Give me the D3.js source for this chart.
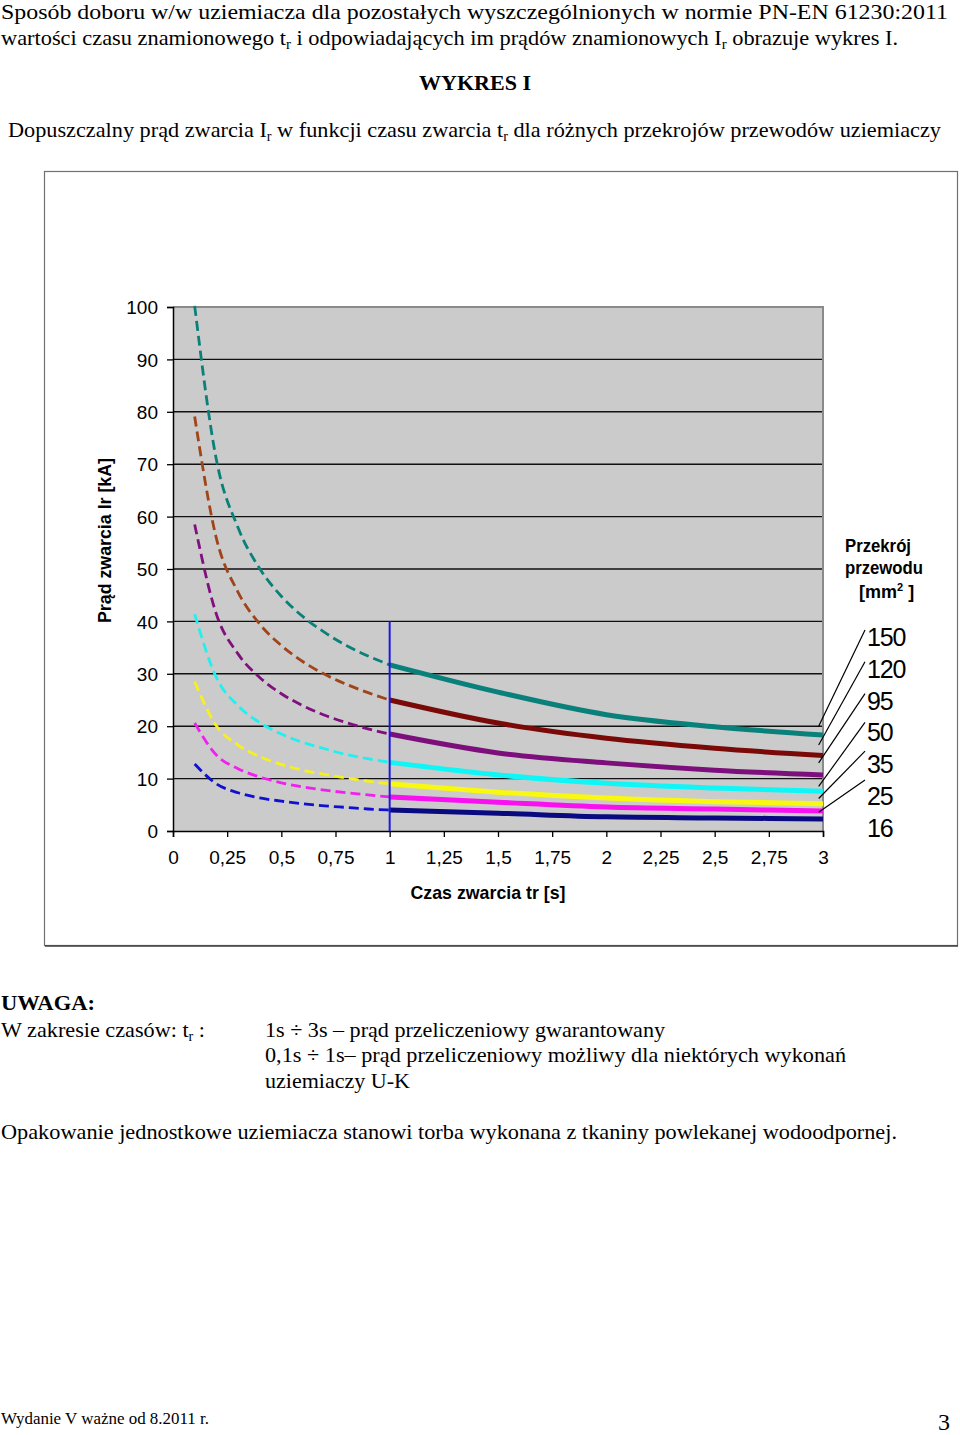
<!DOCTYPE html>
<html><head><meta charset="utf-8">
<script src="https://cdn.jsdelivr.net/npm/d3@7"></script>
<style>html,body{margin:0;padding:0;background:#fff;} svg{display:block}</style>
</head><body>
<svg id="c" width="960" height="1435"></svg>
<script>
// ---------- data ----------
const sections = ["150","120","95","50","35","25","16"];
const tDashed = [0.1,0.2,0.3,0.4,0.5,0.6,0.7,0.8,0.9,1.0];
const tSolid  = [1.0,1.5,2.0,2.5,3.0];
const dashed150 = [100.2,70.9,57.9,50.1,44.8,40.9,37.9,35.4,33.4,31.7];
const dashed120 = [79.1,55.9,45.6,39.5,35.4,32.3,29.9,28.0,26.4,25.0];
const dashed95  = [58.5,41.4,33.8,29.3,26.2,23.9,22.1,20.7,19.5,18.5];
const dashed50  = [41.4,29.3,23.9,20.7,18.5,16.9,15.7,14.6,13.8,13.1];
const dashed35  = [28.5,20.1,16.4,14.2,12.7,11.6,10.8,10.1,9.5,9.0];
const dashed25  = [20.6,14.5,11.9,10.3,9.2,8.4,7.8,7.3,6.9,6.5];
const dashed16  = [12.8,9.0,7.3,6.3,5.7,5.2,4.8,4.5,4.2,4.0];
const solid150 = [31.7,26.5,22.2,19.9,18.3];
const solid120 = [25.0,20.6,17.7,15.8,14.4];
const solid95  = [18.5,14.9,13.0,11.6,10.7];
const solid50  = [13.1,10.7,9.1,8.2,7.6];
const solid35  = [9.0,7.4,6.3,5.6,5.2];
const solid25  = [6.5,5.5,4.6,4.2,3.8];
const solid16  = [4.0,3.4,2.7,2.5,2.3];
const xTicks = [0,0.25,0.5,0.75,1,1.25,1.5,1.75,2,2.25,2.5,2.75,3];
const xTickLabels = ["0","0,25","0,5","0,75","1","1,25","1,5","1,75","2","2,25","2,5","2,75","3"];
const yTicks = [0,10,20,30,40,50,60,70,80,90,100];
const markerT = 1, markerTop = 40;
const leaderEnds = [20.0,16.4,13.0,8.5,6.2,3.6]; // kA where leader lines touch (150..25)

// ---------- styles ----------
const dashedColors = ["#0a8079","#a0441a","#80107e","#22f0f0","#f6f020","#f020f0","#1010d0"];
const solidColors  = ["#0a807a","#7a0a08","#7c0f7c","#10f6f6","#f8f810","#f810f0","#0a0a80"];
const sans = "'Liberation Sans', Arial, sans-serif";
const serif = "'Liberation Serif', 'Times New Roman', serif";

const svg = d3.select("#c");
const x = d3.scaleLinear().domain([0,3]).range([173,823]);
const y = d3.scaleLinear().domain([0,100]).range([831,307]);

// ---------- page text ----------
function para(px, py, parts, o) {
  const t = svg.append("text").attr("x", px).attr("y", py)
    .attr("font-family", serif).attr("font-size", o.size || 22)
    .attr("font-weight", o.bold ? "bold" : "normal").attr("fill", "#000");
  let wasSub = false;
  parts.forEach(p => {
    if (typeof p === "string") {
      const s = t.append("tspan").text(p);
      if (wasSub) s.attr("dy", -4);
      wasSub = false;
    } else {
      t.append("tspan").attr("dy", 4).attr("font-size", 14).text(p.sub);
      wasSub = true;
    }
  });
  if (o.w) t.attr("textLength", o.w).attr("lengthAdjust", "spacingAndGlyphs");
  if (o.anchor) t.attr("text-anchor", o.anchor);
  return t;
}
para(1, 19, ["Sposób doboru w/w uziemiacza dla pozostałych wyszczególnionych w normie PN-EN 61230:2011"], {w: 947, size: 21});
para(1, 45, ["wartości czasu znamionowego t", {sub:"r"}, " i odpowiadających im prądów znamionowych I", {sub:"r"}, " obrazuje wykres I."], {w: 897, size: 21});
para(419, 90, ["WYKRES I"], {w: 112, bold: true});
para(8, 137, ["Dopuszczalny prąd zwarcia I", {sub:"r"}, " w funkcji czasu zwarcia t", {sub:"r"}, " dla różnych przekrojów przewodów uziemiaczy"], {w: 933});
para(1, 1010, ["UWAGA:"], {w: 94, bold: true});
para(1, 1037, ["W zakresie czasów: t", {sub:"r"}, " :"], {w: 204});
para(265, 1037, ["1s ÷ 3s – prąd przeliczeniowy gwarantowany"], {w: 400});
para(265, 1062, ["0,1s ÷ 1s– prąd przeliczeniowy możliwy dla niektórych wykonań"], {w: 581});
para(265, 1088, ["uziemiaczy U-K"], {w: 145});
para(1, 1139, ["Opakowanie jednostkowe uziemiacza stanowi torba wykonana z tkaniny powlekanej wodoodpornej."], {w: 896});
para(1, 1424, ["Wydanie V ważne od 8.2011 r."], {w: 208, size: 16});
para(938, 1430, ["3"], {size: 24});

// ---------- chart frame ----------
svg.append("rect").attr("x", 44.5).attr("y", 171.5).attr("width", 913).attr("height", 774)
  .attr("fill", "#fff").attr("stroke", "#707070").attr("stroke-width", 1.2);
svg.append("line").attr("x1", 45).attr("x2", 958).attr("y1", 946).attr("y2", 946)
  .attr("stroke", "#404040").attr("stroke-width", 1.5);

// plot area
svg.append("rect").attr("x", x(0)).attr("y", y(100)).attr("width", x(3) - x(0)).attr("height", y(0) - y(100))
  .attr("fill", "#cbcbcb");
// gridlines
svg.append("g").selectAll("line").data(yTicks.filter(v => v > 0 && v < 100)).join("line")
  .attr("x1", x(0)).attr("x2", x(3)).attr("y1", d => y(d)).attr("y2", d => y(d))
  .attr("stroke", "#111").attr("stroke-width", 1.4);
// top/right border of plot area
svg.append("path").attr("d", `M${x(0)},${y(100)}H${x(3)}V${y(0)}`)
  .attr("fill", "none").attr("stroke", "#8a8a8a").attr("stroke-width", 2);

// axes
const yAxis = d3.axisLeft(y).tickValues(yTicks).tickSize(6).tickFormat(d3.format("d"));
const gy = svg.append("g").attr("transform", `translate(${x(0)},0)`).call(yAxis);
gy.select(".domain").attr("stroke", "#000").attr("stroke-width", 1.5);
gy.selectAll(".tick line").attr("stroke", "#000").attr("stroke-width", 1.3);
gy.selectAll(".tick text").attr("font-family", sans).attr("font-size", 19).attr("fill", "#000")
  .attr("x", -15).attr("dy", "0.35em");

const xAxis = d3.axisBottom(x).tickValues(xTicks).tickSize(6).tickFormat((d, i) => xTickLabels[i]);
const gx = svg.append("g").attr("transform", `translate(0,${y(0)})`).call(xAxis);
gx.select(".domain").attr("stroke", "#000").attr("stroke-width", 1.5);
gx.selectAll(".tick line").attr("stroke", "#000").attr("stroke-width", 1.3);
gx.selectAll(".tick text").attr("font-family", sans).attr("font-size", 19).attr("fill", "#000")
  .attr("y", 20).attr("dy", "0.71em");

// ---------- curves ----------
const dashedSeries = [dashed150, dashed120, dashed95, dashed50, dashed35, dashed25, dashed16];
const solidSeries  = [solid150, solid120, solid95, solid50, solid35, solid25, solid16];
const line = d3.line().x(d => x(d[0])).y(d => y(d[1])).curve(d3.curveMonotoneX);

svg.append("g").selectAll("path").data(dashedSeries).join("path")
  .attr("d", s => line(s.map((v, i) => [tDashed[i], v])))
  .attr("fill", "none").attr("stroke", (s, i) => dashedColors[i])
  .attr("stroke-width", 2.8).attr("stroke-dasharray", "10,5");

svg.append("g").selectAll("path").data(solidSeries).join("path")
  .attr("d", s => line(s.map((v, i) => [tSolid[i], v])))
  .attr("fill", "none").attr("stroke", (s, i) => solidColors[i])
  .attr("stroke-width", 5).attr("stroke-linecap", "butt");

// vertical marker at t = 1
svg.append("line").attr("x1", x(markerT)).attr("x2", x(markerT))
  .attr("y1", y(markerTop)).attr("y2", y(0))
  .attr("stroke", "#1a1ae0").attr("stroke-width", 2);

// ---------- axis titles ----------
svg.append("text").attr("x", 488).attr("y", 899).attr("text-anchor", "middle")
  .attr("font-family", sans).attr("font-weight", "bold").attr("font-size", 19)
  .attr("textLength", 155).attr("lengthAdjust", "spacingAndGlyphs")
  .text("Czas zwarcia tr [s]");
svg.append("text").attr("transform", "translate(111,540.5) rotate(-90)").attr("text-anchor", "middle")
  .attr("font-family", sans).attr("font-weight", "bold").attr("font-size", 19)
  .attr("textLength", 165).attr("lengthAdjust", "spacingAndGlyphs")
  .text("Prąd zwarcia Ir [kA]");

// ---------- legend ----------
const lg = svg.append("g").attr("font-family", sans).attr("font-weight", "bold").attr("font-size", 18);
lg.append("text").attr("x", 845).attr("y", 552).attr("textLength", 66).attr("lengthAdjust", "spacingAndGlyphs").text("Przekrój");
lg.append("text").attr("x", 845).attr("y", 574).attr("textLength", 78).attr("lengthAdjust", "spacingAndGlyphs").text("przewodu");
const mm = lg.append("text").attr("x", 859).attr("y", 598);
mm.append("tspan").text("[mm");
mm.append("tspan").attr("font-size", 11).attr("dy", -7).text("2");
mm.append("tspan").attr("dy", 7).text(" ]");

svg.append("g").selectAll("text").data(sections).join("text")
  .attr("x", 867).attr("y", (d, i) => 646 + i * 31.8)
  .attr("font-family", sans).attr("font-size", 25).attr("letter-spacing", -1.2)
  .attr("fill", "#000").text(d => d);

svg.append("g").selectAll("line").data(leaderEnds).join("line")
  .attr("x1", 865).attr("y1", (d, i) => 630 + i * 31.8 - (i > 2 ? 3 * (i - 2) : 0))
  .attr("x2", x(2.98)).attr("y2", d => y(d))
  .attr("stroke", "#000").attr("stroke-width", 1.2);
</script>
</body></html>
